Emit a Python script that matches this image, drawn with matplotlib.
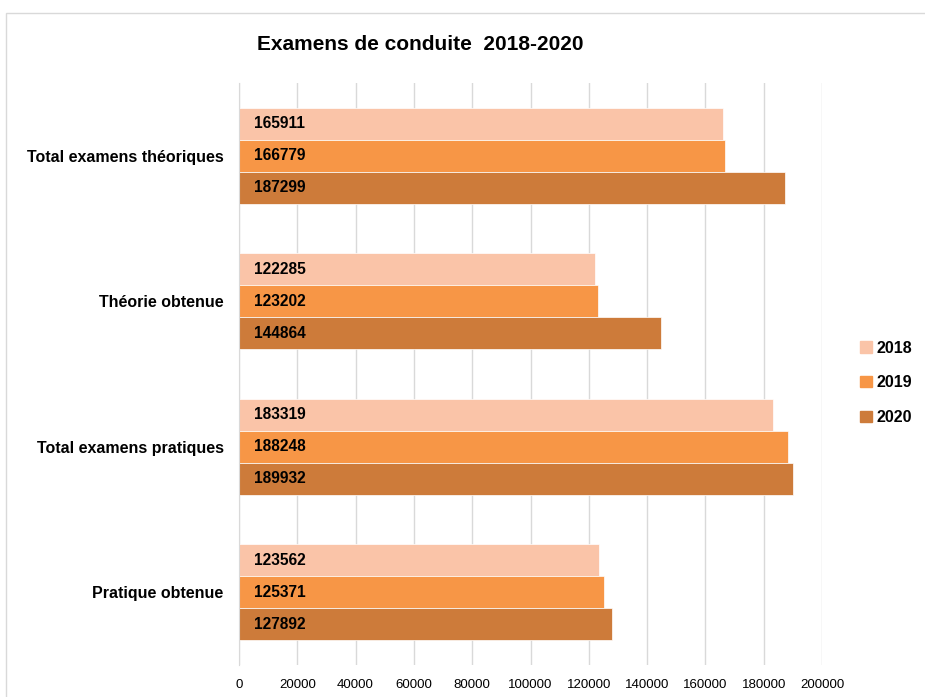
import matplotlib.pyplot as plt
import matplotlib.patches as mpatches
import numpy as np

plt.rcParams['font.family'] = ['Liberation Sans', 'DejaVu Sans']

categories = ["Total examens théoriques", "Théorie obtenue",
              "Total examens pratiques", "Pratique obtenue"]
years = ["2018", "2019", "2020"]
v2018 = [165911, 122285, 183319, 123562]
v2019 = [166779, 123202, 188248, 125371]
v2020 = [187299, 144864, 189932, 127892]
colors = ["#FAC4A8", "#F79646", "#CD7B3A"]


def main():
    fig = plt.figure(figsize=(9.25, 6.97), dpi=100)
    # light frame round the chart
    fig.patches.append(mpatches.Rectangle((6 / 925, -0.01), 1.0, 1 - 13 / 697 + 0.01,
                                          transform=fig.transFigure, fill=False,
                                          edgecolor="#D9D9D9", linewidth=1))
    ax = fig.add_axes([239 / 925, 1 - 665 / 697, (822 - 239) / 925, (665 - 83) / 697])

    y = np.arange(len(categories))
    h = 0.22
    for k, (vals, yr) in enumerate(zip([v2018, v2019, v2020], years)):
        pos = y + (k - 1) * h
        ax.barh(pos, vals, height=h, color=colors[k], edgecolor="white",
                linewidth=0.5, label=yr, zorder=2)
        for p, v in zip(pos, vals):
            ax.text(5000, p, str(v), va="center", ha="left", fontsize=11.2,
                    fontweight="bold", color="black", zorder=3)

    ax.set_xlim(0, 200000)
    ax.set_ylim(3.5, -0.5)
    ax.set_xticks(np.arange(0, 200001, 20000))
    ax.set_xticklabels([str(t) for t in range(0, 200001, 20000)], fontsize=9.5)
    ax.set_yticks(y)
    ax.set_yticklabels(categories, fontsize=11.5, fontweight="bold")
    ax.tick_params(axis="both", length=0)
    ax.tick_params(axis="x", pad=10)
    ax.tick_params(axis="y", pad=11)
    ax.grid(axis="x", color="#D9D9D9", linewidth=1, zorder=0)
    for s in ["top", "right", "bottom"]:
        ax.spines[s].set_visible(False)
    ax.spines["left"].set_color("#D9D9D9")

    fig.text(420 / 925, 1 - 45 / 697, "Examens de conduite  2018-2020",
             ha="center", va="center", fontsize=15, fontweight="bold")

    handles = [mpatches.Patch(color=c) for c in colors]
    fig.legend(handles, years, loc="center left", bbox_to_anchor=(846 / 925, 1 - 383 / 697),
               frameon=False, handlelength=0.7, handleheight=0.7, handletextpad=0.3,
               labelspacing=1.25, prop={"weight": "bold", "size": 11.5})

    plt.savefig("out.png", dpi=100)


if __name__ == "__main__":
    main()
